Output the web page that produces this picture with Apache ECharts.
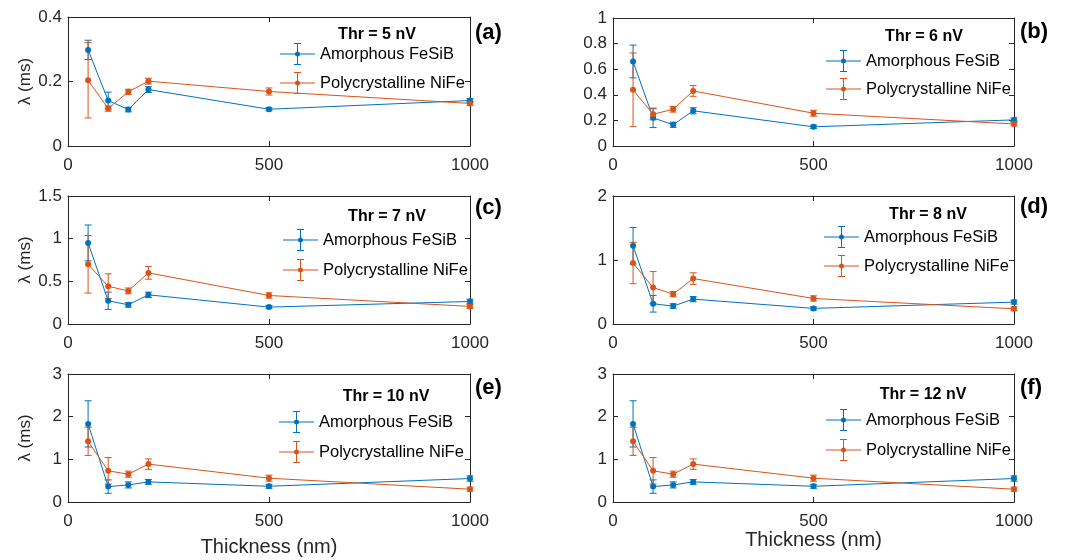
<!DOCTYPE html>
<html>
<head>
<meta charset="utf-8">
<script src="https://cdn.jsdelivr.net/npm/echarts@6/dist/echarts.min.js"></script>
<style>
  html, body { margin: 0; padding: 0; background: #ffffff; }
  #chart { width: 1084px; height: 560px; }
</style>
</head>
<body>
<div id="chart"></div>
<script>
// Film thickness (nm) shared by every panel
const thickness = [50, 100, 150, 200, 500, 1000];
const xTicks = [0, 500, 1000];
const seriesNames = ['Amorphous FeSiB', 'Polycrystalline NiFe'];
const panelLetters = ['(a)', '(b)', '(c)', '(d)', '(e)', '(f)'];
const thresholds = ['Thr = 5 nV', 'Thr = 6 nV', 'Thr = 7 nV', 'Thr = 8 nV', 'Thr = 10 nV', 'Thr = 12 nV'];
const yMax = [0.4, 1, 1.5, 2, 3, 3];
const yStep = [0.2, 0.2, 0.5, 1, 1, 1];

// λ (ms) means and symmetric error half-widths per threshold
const feSiB5 = [0.298, 0.141, 0.113, 0.175, 0.114, 0.141];
const feSiB5Err = [0.030, 0.026, 0.007, 0.009, 0.005, 0.006];
const niFe5 = [0.204, 0.116, 0.168, 0.201, 0.169, 0.132];
const niFe5Err = [0.117, 0.008, 0.008, 0.009, 0.011, 0.006];

const feSiB6 = [0.660, 0.220, 0.166, 0.275, 0.150, 0.204];
const feSiB6Err = [0.128, 0.076, 0.020, 0.024, 0.013, 0.016];
const niFe6 = [0.439, 0.248, 0.287, 0.430, 0.256, 0.172];
const niFe6Err = [0.288, 0.043, 0.022, 0.042, 0.023, 0.016];

const feSiB7 = [0.950, 0.272, 0.225, 0.342, 0.198, 0.264];
const feSiB7Err = [0.210, 0.101, 0.027, 0.031, 0.019, 0.027];
const niFe7 = [0.700, 0.442, 0.388, 0.599, 0.334, 0.206];
const niFe7Err = [0.337, 0.146, 0.034, 0.074, 0.031, 0.023];

const feSiB8 = [1.223, 0.316, 0.280, 0.389, 0.244, 0.342];
const feSiB8Err = [0.285, 0.130, 0.036, 0.041, 0.026, 0.031];
const niFe8 = [0.953, 0.570, 0.466, 0.710, 0.399, 0.238];
const niFe8Err = [0.324, 0.249, 0.041, 0.090, 0.041, 0.031];

const feSiB10 = [1.830, 0.361, 0.400, 0.471, 0.369, 0.550];
const feSiB10Err = [0.542, 0.157, 0.071, 0.055, 0.047, 0.063];
const niFe10 = [1.422, 0.731, 0.652, 0.888, 0.558, 0.300];
const niFe10Err = [0.330, 0.311, 0.071, 0.122, 0.071, 0.047];

const feSiB12 = [1.830, 0.361, 0.400, 0.471, 0.369, 0.550];
const feSiB12Err = [0.542, 0.157, 0.071, 0.055, 0.047, 0.063];
const niFe12 = [1.422, 0.731, 0.652, 0.888, 0.558, 0.300];
const niFe12Err = [0.330, 0.311, 0.071, 0.122, 0.071, 0.047];

const panels = [
  [feSiB5, feSiB5Err, niFe5, niFe5Err],
  [feSiB6, feSiB6Err, niFe6, niFe6Err],
  [feSiB7, feSiB7Err, niFe7, niFe7Err],
  [feSiB8, feSiB8Err, niFe8, niFe8Err],
  [feSiB10, feSiB10Err, niFe10, niFe10Err],
  [feSiB12, feSiB12Err, niFe12, niFe12Err]
];

const COLORS = ['#0072BD', '#D95319'];
const AXIS = '#262626';
const FONT = '"Liberation Sans", Arial, Helvetica, sans-serif';

// Panel frames
const gridBoxes = [
  { left: 68, top: 17, width: 402, height: 129 },
  { left: 613, top: 18, width: 401, height: 128 },
  { left: 68, top: 196, width: 402, height: 128 },
  { left: 613, top: 196, width: 401, height: 128 },
  { left: 68, top: 374, width: 402, height: 128 },
  { left: 613, top: 374, width: 401, height: 128 }
];
const legendPos = [
  { left: 280, top: 43, gap: 7 },
  { left: 826, top: 50, gap: 6 },
  { left: 283, top: 229, gap: 8 },
  { left: 824, top: 226, gap: 7 },
  { left: 279, top: 411, gap: 8 },
  { left: 826, top: 409, gap: 8 }
];
const thrPos = [[377, 35], [924, 37], [387, 217], [928, 215], [386, 397], [923, 395]];
const letterPos = [[475, 33], [1020, 32], [475, 208], [1020, 207], [475, 388], [1020, 388]];
const xNameGap = [0, 0, 0, 0, 35, 24];

// Legend glyph: line, filled marker and capped error bar (all clockwise so they fill together)
const legendIcon = 'path://M0 10.5 H35 V11.5 H0 Z M17 0 H18 V22 H17 Z M14 0 H21 V1 H14 Z M14 21 H21 V22 H14 Z M15 11 A2.5 2.5 0 1 1 20 11 A2.5 2.5 0 1 1 15 11 Z';

const grid = [], xAxis = [], yAxis = [], series = [], legend = [], graphic = [];

function errorSeries(gi, name, color, vals, errs) {
  return {
    type: 'custom',
    name: name,
    xAxisIndex: gi * 2,
    yAxisIndex: gi * 2,
    data: thickness.map((x, i) => [x, vals[i] - errs[i], vals[i] + errs[i]]),
    encode: { x: 0, y: [1, 2] },
    itemStyle: { color: color },
    z: 2,
    silent: true,
    renderItem: function (params, api) {
      const lo = api.coord([api.value(0), api.value(1)]);
      const hi = api.coord([api.value(0), api.value(2)]);
      const w = 3.5;
      const st = { stroke: color, lineWidth: 1, fill: null };
      return {
        type: 'group',
        children: [
          { type: 'line', shape: { x1: lo[0], y1: lo[1], x2: hi[0], y2: hi[1] }, style: st },
          { type: 'line', shape: { x1: lo[0] - w, y1: lo[1], x2: lo[0] + w, y2: lo[1] }, style: st },
          { type: 'line', shape: { x1: hi[0] - w, y1: hi[1], x2: hi[0] + w, y2: hi[1] }, style: st }
        ]
      };
    }
  };
}

panels.forEach((p, gi) => {
  grid.push(Object.assign({ containLabel: false, show: false }, gridBoxes[gi]));

  const lineAxis = { show: true, onZero: false, lineStyle: { color: AXIS, width: 1 } };
  const tick = { show: true, inside: true, length: 5, lineStyle: { color: AXIS, width: 1 } };

  xAxis.push({
    gridIndex: gi, type: 'value', position: 'bottom',
    min: xTicks[0], max: xTicks[xTicks.length - 1], interval: xTicks[1] - xTicks[0],
    axisLine: lineAxis, axisTick: tick, splitLine: { show: false },
    axisLabel: { color: AXIS, fontSize: 17, fontFamily: FONT, margin: 11, formatter: v => String(v) },
    name: gi >= 4 ? 'Thickness (nm)' : '',
    nameLocation: 'middle', nameGap: xNameGap[gi],
    nameTextStyle: { color: AXIS, fontSize: 20, fontFamily: FONT }
  });
  xAxis.push({
    gridIndex: gi, type: 'value', position: 'top',
    min: xTicks[0], max: xTicks[xTicks.length - 1], interval: xTicks[1] - xTicks[0],
    axisLine: lineAxis, axisTick: tick, splitLine: { show: false },
    axisLabel: { show: false }
  });
  yAxis.push({
    gridIndex: gi, type: 'value', position: 'left',
    min: 0, max: yMax[gi], interval: yStep[gi],
    axisLine: lineAxis, axisTick: tick, splitLine: { show: false },
    axisLabel: { color: AXIS, fontSize: 17, fontFamily: FONT, margin: 6 },
    name: gi % 2 === 0 ? 'λ (ms)' : '',
    nameLocation: 'middle', nameGap: 34, nameRotate: 90,
    nameTextStyle: { color: AXIS, fontSize: 17, fontFamily: FONT }
  });
  yAxis.push({
    gridIndex: gi, type: 'value', position: 'right',
    min: 0, max: yMax[gi], interval: yStep[gi],
    axisLine: lineAxis, axisTick: tick, splitLine: { show: false },
    axisLabel: { show: false }
  });

  for (let s = 0; s < 2; s++) {
    const vals = p[s * 2], errs = p[s * 2 + 1];
    series.push(errorSeries(gi, seriesNames[s], COLORS[s], vals, errs));
    series.push({
      type: 'line',
      name: seriesNames[s],
      xAxisIndex: gi * 2,
      yAxisIndex: gi * 2,
      data: thickness.map((x, i) => [x, vals[i]]),
      symbol: 'circle',
      symbolSize: 6,
      showSymbol: true,
      lineStyle: { color: COLORS[s], width: 1 },
      itemStyle: { color: COLORS[s] },
      z: 3,
      silent: true,
      animation: false
    });
  }

  legend.push({
    left: legendPos[gi].left, top: legendPos[gi].top,
    orient: 'vertical', padding: 0,
    itemWidth: 35, itemHeight: 22, itemGap: legendPos[gi].gap,
    selectedMode: false,
    textStyle: { color: '#000', fontSize: 16.5, fontFamily: FONT, padding: [0, 0, 0, 0] },
    data: seriesNames.map((n, k) => ({
      name: n, icon: legendIcon,
      itemStyle: { color: COLORS[k], borderWidth: 0, opacity: 1 }
    }))
  });

  graphic.push({
    type: 'text', x: thrPos[gi][0], y: thrPos[gi][1],
    style: { text: thresholds[gi], fill: '#000', font: 'bold 16px ' + FONT, textAlign: 'center', textVerticalAlign: 'middle', verticalAlign: 'middle' }
  });
  graphic.push({
    type: 'text', x: letterPos[gi][0], y: letterPos[gi][1],
    style: { text: panelLetters[gi], fill: '#000', font: 'bold 22px ' + FONT, textAlign: 'left', textVerticalAlign: 'middle', verticalAlign: 'middle' }
  });
});

const chart = echarts.init(document.getElementById('chart'), null, { renderer: 'canvas' });
chart.setOption({
  backgroundColor: '#ffffff',
  animation: false,
  textStyle: { fontFamily: FONT },
  grid: grid,
  xAxis: xAxis,
  yAxis: yAxis,
  legend: legend,
  series: series,
  graphic: graphic
});
</script>
</body>
</html>
